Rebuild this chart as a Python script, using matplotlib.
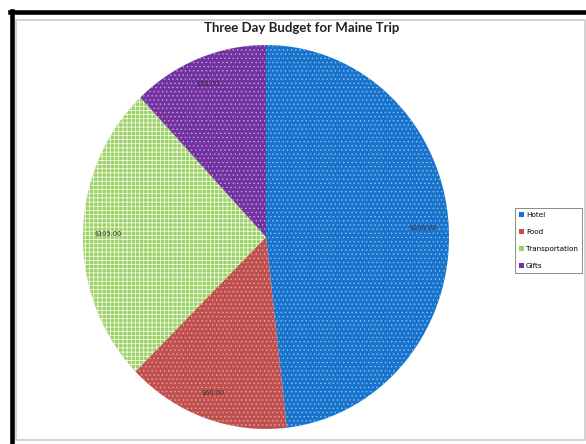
import matplotlib.pyplot as plt
from matplotlib.patches import Rectangle
from matplotlib.lines import Line2D

categories = ["Hotel", "Food", "Transportation", "Gifts"]
amounts = [200, 60, 105, 50]
colors = ["#1873CC", "#C0504D", "#9BD263", "#7232A0"]
dot_colors = ["#8DC0EE", "#E8A8A6", "#FFFFFF", "#C2A2DC"]
hatches = ["....", "....", "++++", "...."]

W, H = 586, 444
fig = plt.figure(figsize=(W / 100, H / 100), dpi=100)

# frame: black top/left edge, light grey inner box
fig.add_artist(Line2D([10 / W, 1], [1 - 12.5 / H] * 2, color="black", lw=3.3, transform=fig.transFigure))
fig.add_artist(Line2D([12 / W] * 2, [0, 1 - 11 / H], color="black", lw=3.3, transform=fig.transFigure))
fig.add_artist(Rectangle((16 / W, 4 / H), 569 / W, (440 - 20) / H, fill=False,
                         edgecolor="#cccccc", lw=1.2, transform=fig.transFigure))

plt.rcParams["hatch.linewidth"] = 0.5

# pie axes (slightly taller than wide, like the reference)
ax = fig.add_axes([83 / W, 15 / H, 366 / W, 384 / H])
wedges, texts, autotexts = ax.pie(
    amounts, colors=colors, startangle=90, counterclock=False,
    autopct=lambda p: "${:.2f}".format(p * sum(amounts) / 100),
    pctdistance=0.86, radius=1,
    wedgeprops=dict(linewidth=0),
    textprops=dict(fontsize=4.8, color="#333333"),
)
for w, h, dc in zip(wedges, hatches, dot_colors):
    w.set_hatch(h)
    w.set_edgecolor(dc)
    w.set_linewidth(0)
ax.set_aspect("auto")
ax.set_xlim(-1, 1)
ax.set_ylim(-1, 1)

fig.text(302 / W, 1 - 28 / H, "Three Day Budget for Maine Trip", ha="center", va="center",
         fontsize=9.5, fontweight="bold", family="Lato", color="#222222")

handles = [Rectangle((0, 0), 1, 1, facecolor=c, edgecolor="none") for c in colors]
leg = fig.legend(handles, categories, loc="upper left",
                 bbox_to_anchor=(515 / W, 1 - 208 / H), bbox_transform=fig.transFigure,
                 fontsize=5.2, frameon=True, fancybox=False, handlelength=0.6,
                 handleheight=0.6, handletextpad=0.3, labelspacing=1.5,
                 borderpad=0.6, borderaxespad=0)
leg.get_frame().set_edgecolor("#555555")
leg.get_frame().set_linewidth(0.6)

fig.savefig("out.png", dpi=100)
